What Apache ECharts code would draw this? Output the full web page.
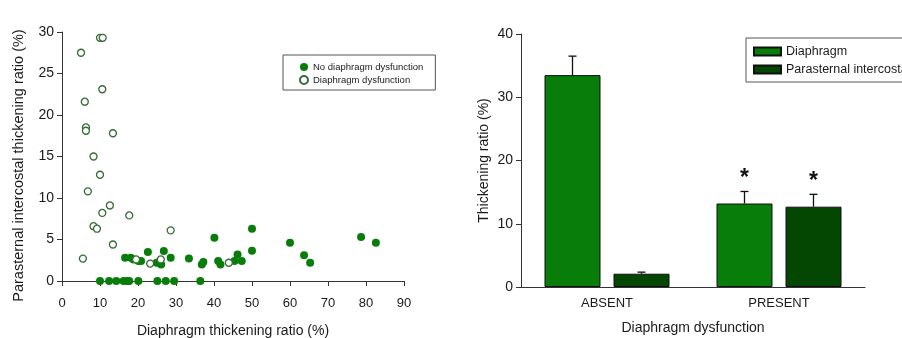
<!DOCTYPE html>
<html>
<head>
<meta charset="utf-8">
<script src="https://cdn.jsdelivr.net/npm/echarts@6/dist/echarts.min.js"></script>
<style>
  html, body { margin: 0; padding: 0; background: #fff; }
  #main { width: 902px; height: 338px; }
</style>
</head>
<body>
<div id="main"></div>
<script>
// scatter: [diaphragm thickening ratio, parasternal thickening ratio]
var noDysfunction = [
  [10.0, 0], [12.4, 0], [14.3, 0], [16.2, 0], [17.1, 0], [17.7, 0], [20.1, 0],
  [25.1, 0], [27.3, 0], [29.5, 0], [36.4, 0],
  [16.6, 2.8], [18.1, 2.8], [18.8, 2.6], [20.1, 2.4], [20.8, 2.4], [22.6, 3.5],
  [24.9, 2.2], [26.1, 2.0], [26.8, 3.6], [28.6, 2.8], [33.4, 2.7], [36.8, 2.0],
  [37.2, 2.3], [40.1, 5.2], [41.1, 2.4], [41.7, 2.0], [45.4, 2.4], [46.2, 3.2],
  [47.3, 2.4], [50.0, 6.3], [50.0, 3.65], [60.0, 4.6], [63.7, 3.1], [65.3, 2.2],
  [78.7, 5.3], [82.6, 4.6]
]
var dysfunction = [
  [5.0, 27.5], [10.0, 29.3], [10.7, 29.3], [10.6, 23.1], [6.0, 21.6], [6.3, 18.5],
  [6.3, 18.1], [13.4, 17.8], [8.3, 15.0], [10.0, 12.8], [6.8, 10.8], [12.6, 9.1],
  [10.6, 8.2], [17.7, 7.9], [8.3, 6.6], [9.2, 6.3], [28.6, 6.1], [13.4, 4.4],
  [5.5, 2.7], [19.5, 2.6], [23.2, 2.1], [26.0, 2.6], [43.9, 2.2]
]

// bars
var categories = ['ABSENT', 'PRESENT']
var diaphragmMean = [33.5, 13.2]
var diaphragmErr = [3.0, 1.9]
var parasternalMean = [2.1, 12.7]
var parasternalErr = [0.25, 1.95]
var sigMarks = ['', '*']

var font = 'Liberation Sans, Arial, sans-serif'
var txt = '#1a1a1a'
var green = '#087d0a'
var darkGreen = '#034703'
var barW = 56
var barGapPx = 13

function errSeries(name, means, errs, shift) {
  var data = means.map(function (m, i) { return [i, m, errs[i]] })
  return {
    name: name + ' err',
    type: 'custom',
    xAxisIndex: 1,
    yAxisIndex: 1,
    z: 5,
    silent: true,
    data: data,
    renderItem: function (params, api) {
      var i = api.value(0)
      var base = api.coord([i, api.value(1)])
      var top = api.coord([i, api.value(1) + api.value(2)])
      var x = base[0] + shift
      var children = [
        { type: 'line', shape: { x1: x, y1: base[1], x2: x, y2: top[1] }, style: { stroke: '#111', lineWidth: 1.3 } },
        { type: 'line', shape: { x1: x - 4, y1: top[1], x2: x + 4, y2: top[1] }, style: { stroke: '#111', lineWidth: 1.3 } }
      ]
      var mark = sigMarks[params.dataIndex]
      if (mark) {
        children.push({
          type: 'text',
          style: { text: mark, x: x, y: top[1] - 1, align: 'center', verticalAlign: 'bottom',
            font: 'bold 23px ' + font, fill: '#111' }
        })
      }
      return { type: 'group', children: children }
    }
  }
}

var chart = echarts.init(document.getElementById('main'), null, { renderer: 'canvas' })

var option = {
  backgroundColor: '#fff',
  animation: false,
  textStyle: { fontFamily: font, color: txt },
  legend: [
    {
      data: ['No diaphragm dysfunction', 'Diaphragm dysfunction'],
      orient: 'vertical',
      left: 283,
      top: 55,
      padding: [7, 12, 5, 16],
      itemGap: 3,
      itemWidth: 8,
      itemHeight: 8,
      borderColor: '#555',
      borderWidth: 1,
      textStyle: { fontFamily: font, fontSize: 9.5, color: txt },
      selectedMode: false
    },
    {
      data: ['Diaphragm', 'Parasternal intercostal'],
      orient: 'vertical',
      left: 746,
      top: 38,
      padding: [7, 12, 6, 7],
      itemGap: 5,
      itemWidth: 27,
      itemHeight: 8,
      icon: 'rect',
      borderColor: '#555',
      borderWidth: 1,
      textStyle: { fontFamily: font, fontSize: 12.5, color: txt },
      selectedMode: false
    }
  ],
  grid: [
    { left: 62, top: 32, width: 342, height: 249, containLabel: false, outerBoundsMode: 'none' },
    { left: 521, top: 34, width: 344, height: 253, containLabel: false, outerBoundsMode: 'none' }
  ],
  xAxis: [
    {
      type: 'value',
      gridIndex: 0,
      min: 0, max: 90, interval: 10,
      offset: 4,
      name: 'Diaphragm thickening ratio (%)',
      nameLocation: 'middle',
      nameGap: 39,
      nameTextStyle: { fontFamily: font, fontSize: 14, color: txt },
      axisLine: { lineStyle: { color: '#333', width: 1 } },
      axisTick: { lineStyle: { color: '#333' }, length: 5 },
      axisLabel: { fontFamily: font, fontSize: 13, color: txt, margin: 12 },
      splitLine: { show: false }
    },
    {
      type: 'category',
      gridIndex: 1,
      data: categories,
      name: 'Diaphragm dysfunction',
      nameLocation: 'middle',
      nameGap: 34,
      nameTextStyle: { fontFamily: font, fontSize: 14, color: txt },
      axisLine: { lineStyle: { color: '#333', width: 1 } },
      axisTick: { alignWithLabel: true, lineStyle: { color: '#333' }, length: 4 },
      axisLabel: { fontFamily: font, fontSize: 13, color: txt, margin: 10 }
    }
  ],
  yAxis: [
    {
      type: 'value',
      gridIndex: 0,
      min: 0, max: 30, interval: 5,
      name: 'Parasternal intercostal thickening ratio (%)',
      nameLocation: 'middle',
      nameGap: 36,
      nameTextStyle: { fontFamily: font, fontSize: 14.5, color: txt, padding: [0, 18, 0, 0] },
      axisLine: { show: true, lineStyle: { color: '#333', width: 1 } },
      axisTick: { show: true, lineStyle: { color: '#333' }, length: 5 },
      axisLabel: { fontFamily: font, fontSize: 14, color: txt, margin: 8 },
      splitLine: { show: false }
    },
    {
      type: 'value',
      gridIndex: 1,
      min: 0, max: 40, interval: 10,
      name: 'Thickening ratio (%)',
      nameLocation: 'middle',
      nameGap: 30,
      nameTextStyle: { fontFamily: font, fontSize: 14, color: txt },
      axisLine: { show: true, lineStyle: { color: '#333', width: 1 } },
      axisTick: { show: true, lineStyle: { color: '#333' }, length: 5 },
      axisLabel: { fontFamily: font, fontSize: 14, color: txt, margin: 8 },
      splitLine: { show: false }
    }
  ],
  series: [
    {
      name: 'No diaphragm dysfunction',
      type: 'scatter',
      xAxisIndex: 0, yAxisIndex: 0,
      symbol: 'circle',
      symbolSize: 8,
      clip: false,
      itemStyle: { color: green, opacity: 1 },
      data: noDysfunction
    },
    {
      name: 'Diaphragm dysfunction',
      type: 'scatter',
      xAxisIndex: 0, yAxisIndex: 0,
      symbol: 'circle',
      symbolSize: 7,
      clip: false,
      z: 3,
      itemStyle: { color: '#fff', borderColor: '#356b35', borderWidth: 1.3, opacity: 1 },
      data: dysfunction
    },
    {
      name: 'Diaphragm',
      type: 'bar',
      xAxisIndex: 1, yAxisIndex: 1,
      barWidth: barW,
      barGap: (barGapPx / barW * 100) + '%',
      itemStyle: { color: green, borderColor: '#111', borderWidth: 1 },
      data: diaphragmMean
    },
    {
      name: 'Parasternal intercostal',
      type: 'bar',
      xAxisIndex: 1, yAxisIndex: 1,
      barWidth: barW,
      itemStyle: { color: darkGreen, borderColor: '#111', borderWidth: 1 },
      data: parasternalMean
    },
    errSeries('Diaphragm', diaphragmMean, diaphragmErr, -(barW + barGapPx) / 2),
    errSeries('Parasternal intercostal', parasternalMean, parasternalErr, (barW + barGapPx) / 2)
  ]
}

chart.setOption(option)
</script>
</body>
</html>
